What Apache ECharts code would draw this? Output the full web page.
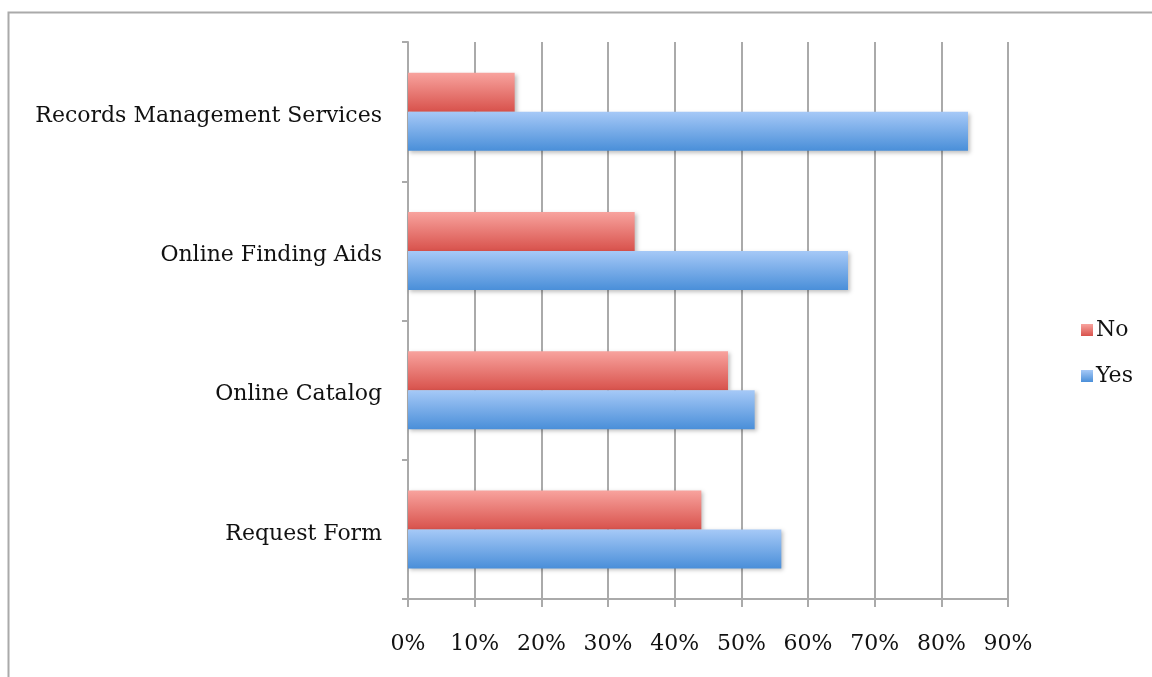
<!DOCTYPE html>
<html>
<head>
<meta charset="utf-8">
<script src="https://cdn.jsdelivr.net/npm/echarts@6/dist/echarts.min.js"></script>
<style>html,body{margin:0;padding:0;background:#fff}#c{width:1152px;height:677px}</style>
</head>
<body>
<div id="c"></div>
<script>
const categories = ['Request Form', 'Online Catalog', 'Online Finding Aids', 'Records Management Services'];
const noValues = [44, 48, 34, 16];
const yesValues = [56, 52, 66, 84];
const xTicks = [0, 10, 20, 30, 40, 50, 60, 70, 80, 90];

const FONT = 'DejaVu Serif';
const FS = 22;
const chart = echarts.init(document.getElementById('c'));
function grad(top, bottom) {
  return new echarts.graphic.LinearGradient(0, 0, 0, 1, [
    {offset: 0, color: top}, {offset: 1, color: bottom}
  ]);
}
chart.setOption({
  animation: false,
  graphic: [{
    type: 'rect', left: 6, top: 10, shape: {width: 1200, height: 700},
    style: {fill: 'none', stroke: '#aaaaaa', lineWidth: 2}, silent: true
  }],
  grid: {left: 408, right: 144, top: 42, bottom: 78},
  legend: {
    orient: 'vertical', left: 1076, top: 314, itemGap: 24,
    itemWidth: 12, itemHeight: 12, icon: 'rect',
    data: ['No', 'Yes'],
    textStyle: {fontFamily: FONT, fontSize: FS, color: '#111', padding: [0, 0, 0, -2]}
  },
  xAxis: {
    type: 'value', min: 0, max: 90, interval: 10,
    axisLine: {show: true, lineStyle: {color: '#aaaaaa', width: 2}},
    axisTick: {show: true, length: 8, lineStyle: {color: '#aaaaaa', width: 2}},
    splitLine: {show: true, lineStyle: {color: '#aaaaaa', width: 2}},
    axisLabel: {formatter: v => v + '%', fontFamily: FONT, fontSize: FS, color: '#111', margin: 34}
  },
  yAxis: {
    type: 'category', data: categories,
    axisLine: {show: true, lineStyle: {color: '#aaaaaa', width: 2}},
    axisTick: {show: true, length: 6, lineStyle: {color: '#aaaaaa', width: 2}},
    axisLabel: {
      fontFamily: FONT, fontSize: FS, color: '#111', margin: 26,
      formatter: v => '{a|' + v + '}',
      rich: {a: {fontFamily: FONT, fontSize: FS, color: '#111', padding: [9, 0, 0, 0]}}
    }
  },
  series: [
    {name: 'No', type: 'bar', data: noValues, barWidth: 39, barGap: '0%',
     itemStyle: {color: grad('#f8a39e', '#d8524c'), shadowColor: 'rgba(0,0,0,0.25)', shadowBlur: 4, shadowOffsetX: 2, shadowOffsetY: 2}},
    {name: 'Yes', type: 'bar', data: yesValues, barWidth: 39, barGap: '0%',
     itemStyle: {color: grad('#a6c9f7', '#4a8fd9'), shadowColor: 'rgba(0,0,0,0.25)', shadowBlur: 4, shadowOffsetX: 2, shadowOffsetY: 2}}
  ]
});
</script>
</body>
</html>
